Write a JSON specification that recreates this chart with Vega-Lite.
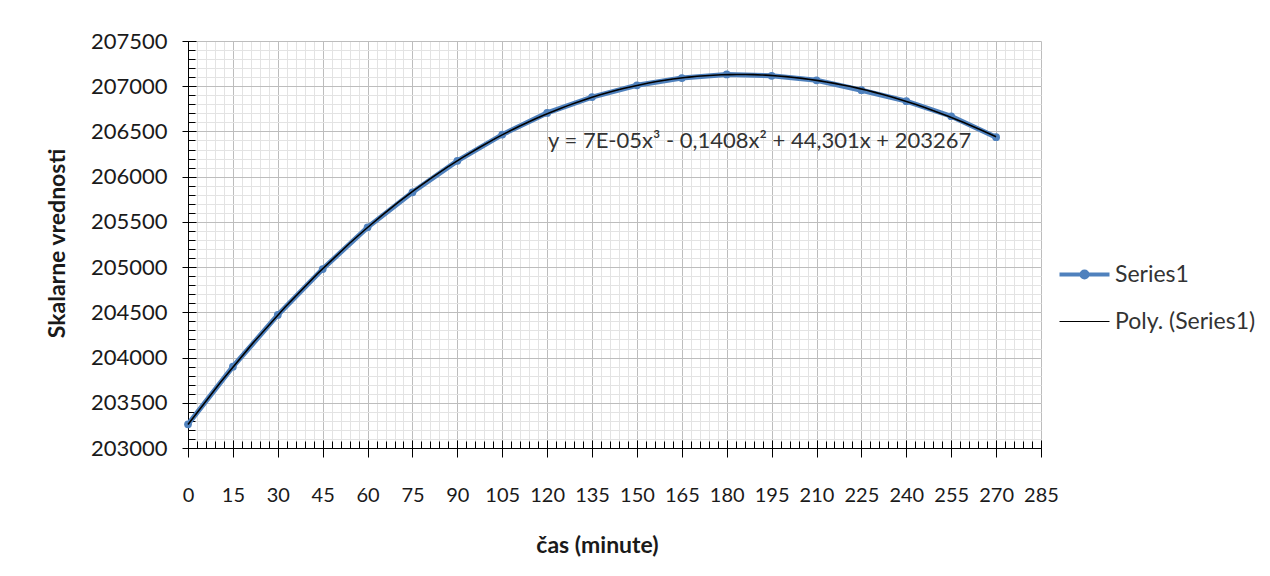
{
  "$schema": "https://vega.github.io/schema/vega-lite/v6.json",
  "autosize": "none",
  "width": 853,
  "height": 407,
  "padding": {"left": 188, "top": 41, "right": 229, "bottom": 128},
  "background": "white",
  "config": {
    "font": "Lato",
    "view": {"stroke": null},
    "axis": {"labelFont": "Lato", "titleFont": "Lato"}
  },
  "datasets": {
    "series": [
      {"t": 0, "v": 203262},
      {"t": 15, "v": 203899},
      {"t": 30, "v": 204471},
      {"t": 45, "v": 204979},
      {"t": 60, "v": 205440},
      {"t": 75, "v": 205827},
      {"t": 90, "v": 206175},
      {"t": 105, "v": 206465},
      {"t": 120, "v": 206705},
      {"t": 135, "v": 206880},
      {"t": 150, "v": 207010},
      {"t": 165, "v": 207090},
      {"t": 180, "v": 207130},
      {"t": 195, "v": 207115},
      {"t": 210, "v": 207065},
      {"t": 225, "v": 206956},
      {"t": 240, "v": 206835},
      {"t": 255, "v": 206668},
      {"t": 270, "v": 206436}
    ],
    "note": [
      {"t": 120.3, "v": 206389, "label": "y = 7E-05x³ - 0,1408x² + 44,301x + 203267"}
    ]
  },
  "resolve": {"axis": {"x": "independent", "y": "independent"}},
  "layer": [
    {
      "data": {"name": "series"},
      "mark": {"type": "line", "strokeWidth": 5, "clip": true},
      "encoding": {
        "x": {"field": "t", "type": "quantitative", "scale": {"domain": [0, 285], "nice": false, "zero": false},
          "axis": {"orient": "bottom", "values": [0,3,6,9,12,15,18,21,24,27,30,33,36,39,42,45,48,51,54,57,60,63,66,69,72,75,78,81,84,87,90,93,96,99,102,105,108,111,114,117,120,123,126,129,132,135,138,141,144,147,150,153,156,159,162,165,168,171,174,177,180,183,186,189,192,195,198,201,204,207,210,213,216,219,222,225,228,231,234,237,240,243,246,249,252,255,258,261,264,267,270,273,276,279,282,285],
            "labels": false, "title": null, "domain": false, "grid": true, "gridColor": "#e3e3e3", "gridWidth": 1, "ticks": true, "tickSize": -7, "tickColor": "#000", "tickWidth": 1}},
        "y": {"field": "v", "type": "quantitative", "scale": {"domain": [203000, 207500], "nice": false, "zero": false},
          "axis": {"orient": "left", "values": [203000,203100,203200,203300,203400,203500,203600,203700,203800,203900,204000,204100,204200,204300,204400,204500,204600,204700,204800,204900,205000,205100,205200,205300,205400,205500,205600,205700,205800,205900,206000,206100,206200,206300,206400,206500,206600,206700,206800,206900,207000,207100,207200,207300,207400,207500],
            "labels": false, "title": null, "domain": false, "grid": true, "gridColor": "#e3e3e3", "gridWidth": 1, "ticks": true, "tickSize": -7, "tickColor": "#000", "tickWidth": 1}},
        "color": {"datum": "Series1", "type": "nominal",
          "scale": {"domain": ["Series1", "Poly. (Series1)"], "range": ["#4F81BD", "#000000"]},
          "legend": {"title": null, "orient": "none", "legendX": 885, "legendY": 222, "padding": 0,
            "symbolSize": 2500, "labelFontSize": 23, "labelColor": "#333333", "labelOffset": 19, "rowPadding": 23, "labelFont": "Lato",
            "encode": {"symbols": {"update": {
              "shape": {"signal": "datum.value === 'Series1' ? 'M-1,0H1M0.12,0A0.12,0.12 0 1,1 -0.12,0A0.12,0.12 0 1,1 0.12,0Z' : 'M-1,0H1'"},
              "strokeWidth": {"signal": "datum.value === 'Series1' ? 4 : 1.2"},
              "fill": {"signal": "datum.value === 'Series1' ? '#4F81BD' : 'transparent'"},
              "stroke": {"signal": "datum.value === 'Series1' ? '#4F81BD' : '#000000'"},
              "opacity": {"value": 1}
            }}}}}
      }
    },
    {
      "data": {"name": "series"},
      "mark": {"type": "point", "filled": true, "size": 60, "color": "#4F81BD", "opacity": 1},
      "encoding": {
        "x": {"field": "t", "type": "quantitative",
          "axis": {"orient": "bottom", "values": [0,15,30,45,60,75,90,105,120,135,150,165,180,195,210,225,240,255,270,285],
            "labels": false, "title": null, "domain": false, "grid": true, "gridColor": "#bdbdbd", "gridWidth": 1, "ticks": true, "tickSize": -8, "tickColor": "#000", "tickWidth": 1}},
        "y": {"field": "v", "type": "quantitative",
          "axis": {"orient": "left", "values": [203000,203500,204000,204500,205000,205500,206000,206500,207000,207500],
            "labels": false, "title": null, "domain": false, "grid": true, "gridColor": "#bdbdbd", "gridWidth": 1, "ticks": true, "tickSize": -8, "tickColor": "#000", "tickWidth": 1}}
      }
    },
    {
      "data": {"name": "series"},
      "transform": [{"regression": "v", "on": "t", "method": "poly", "order": 3}],
      "mark": {"type": "line", "strokeWidth": 1.6},
      "encoding": {
        "x": {"field": "t", "type": "quantitative",
          "axis": {"orient": "bottom", "values": [0,15,30,45,60,75,90,105,120,135,150,165,180,195,210,225,240,255,270,285],
            "labels": true, "labelFontSize": 20, "labelColor": "#1a1a1a", "labelPadding": 28, "labelFlush": false,
            "domain": true, "domainColor": "#000", "domainWidth": 1, "grid": false, "ticks": true, "tickSize": 9, "tickColor": "#000", "tickWidth": 1,
            "title": "čas (minute)", "titleFontSize": 23, "titleFontWeight": "bold", "titleColor": "#1a1a1a",
            "titleX": 409, "titleY": 97, "titleBaseline": "middle", "titleAnchor": null}},
        "y": {"field": "v", "type": "quantitative",
          "axis": {"orient": "left", "values": [203000,203500,204000,204500,205000,205500,206000,206500,207000,207500], "format": "d",
            "labels": true, "labelFontSize": 22, "labelColor": "#1a1a1a", "labelPadding": 15, "labelFlush": false,
            "domain": true, "domainColor": "#000", "domainWidth": 1, "grid": false, "ticks": true, "tickSize": 6, "tickColor": "#000", "tickWidth": 1,
            "title": "Skalarne vrednosti", "titleFontSize": 23, "titleFontWeight": "bold", "titleColor": "#1a1a1a",
            "titleX": -131, "titleY": 202, "titleBaseline": "middle", "titleAngle": -90}},
        "color": {"datum": "Poly. (Series1)", "type": "nominal",
          "scale": {"domain": ["Series1", "Poly. (Series1)"], "range": ["#4F81BD", "#000000"]}}
      }
    },
    {
      "data": {"name": "note"},
      "mark": {"type": "text", "align": "left", "baseline": "middle", "fontSize": 22, "color": "#333333", "font": "Lato"},
      "encoding": {
        "text": {"field": "label", "type": "nominal"},
        "x": {"field": "t", "type": "quantitative", "axis": null},
        "y": {"field": "v", "type": "quantitative", "axis": null}
      }
    }
  ]
}
